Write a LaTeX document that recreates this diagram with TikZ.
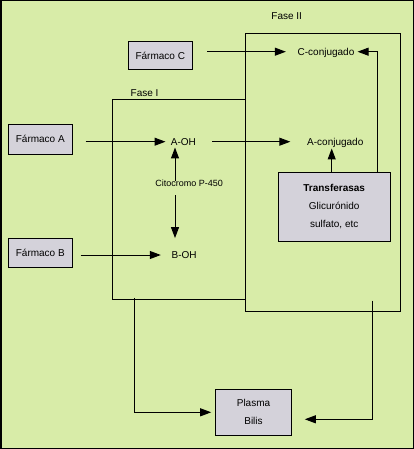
\documentclass[tikz,border=0pt]{standalone}
\usepackage{fontspec}
\setmainfont{Liberation Sans}
\usetikzlibrary{arrows.meta, positioning}
\definecolor{fxBack}{RGB}{216, 236, 168}
\definecolor{fxBox}{RGB}{212, 210, 218}
\tikzset{
  Box/.style      = {draw=black, fill=fxBox, line width=1pt, inner sep=0pt,
                     font=\fontsize{10}{18}\selectfont, align=center},
  Drug/.style     = {Box, text height=7.2pt, text depth=0pt},
  Phase/.style    = {draw=black, line width=1pt, inner sep=0pt},
  Txt/.style      = {inner sep=0pt, font=\fontsize{10}{12}\selectfont,
                     text height=7.2pt, text depth=0pt},
  SmallTxt/.style = {Txt, font=\fontsize{9}{11}\selectfont, text height=6.5pt},
  Arr/.style      = {line width=1pt, -{Triangle[length=11pt, width=8pt]}},
}

\begin{document}
\begin{tikzpicture}[x=1pt, y=-1pt]

% ======================= frame ===========================================
\useasboundingbox (0,0) rectangle (414,449);
\fill[fxBack] (0,0) rectangle (414,449);
\draw[line width=1.5pt] (0.75,0.75) rectangle (413.25,448.25);

% ======================= phases ==========================================
\node[Phase, minimum width=133pt, minimum height=199pt]     (faseI)  at (179.2,199.5) {};
\node[Phase, minimum width=154.3pt, minimum height=277.7pt] (faseII) at (322.85,172.15) {};
\node[Txt, anchor=south west] (lblI)  at ([xshift=18.3pt, yshift=2.4pt]faseI.north west)  {Fase I};
\node[Txt, anchor=south west] (lblII) at ([xshift=26pt, yshift=12.7pt]faseII.north west) {Fase II};

% ======================= boxes ===========================================
\node[Drug, minimum width=64pt, minimum height=27.6pt] (farmC) at (160.3,55.5) {Fármaco C};
\node[Drug, minimum width=64pt, minimum height=30pt]   (farmA) at (40.3,139.3) {Fármaco A};
\node[Drug, minimum width=64pt, minimum height=29.4pt] (farmB) at (40.3,253)   {Fármaco B};
\node[Box, minimum width=111.7pt, minimum height=69pt] (trans) at (334.2,206.8)
  {\textbf{Transferasas}\\Glicurónido\\sulfato, etc};
\node[Box, minimum width=76.4pt, minimum height=46pt]  (plasma) at (253.5,412.3) {Plasma\\Bilis};

% ======================= metabolites =====================================
\node[Txt]      (cconj) at (326,51.7)    {C-conjugado};
\node[Txt]      (aoh)   at (183.4,141.7) {A-OH};
\node[Txt]      (aconj) at (335.3,141.7) {A-conjugado};
\node[SmallTxt] (cito)  at (189.2,183.3) {Citocromo P-450};
\node[Txt]      (boh)   at (184.2,255)   {B-OH};

% ======================= arrows ==========================================
\draw[Arr, shorten <=14.4pt, shorten >=11.6pt] (farmC.east |- cconj) -- (cconj.west);
\draw[Arr, shorten >=3pt] ([xshift=-12.7pt]trans.north east) |- (cconj.east);
\draw[Arr, shorten <=12.7pt, shorten >=5.2pt] (farmA.east |- aoh) -- (aoh.west);
\draw[Arr, shorten <=16.1pt, shorten >=16.7pt] (aoh.east) -- (aconj.west);
\draw[Arr, shorten >=3pt] ([xshift=-2.5pt]trans.north) -- ([xshift=-2.5pt]trans.north |- aconj.south);
% cytochrome, up and down
\draw[Arr, shorten <=-1.5pt, shorten >=2pt] ([xshift=4.3pt]aoh.south west |- cito.north)
  -- ([xshift=4.3pt]aoh.south west);
\draw[Arr, shorten <=8.4pt, shorten >=13.1pt] ([xshift=4.3pt]aoh.south west |- cito.south)
  -- ([xshift=4.3pt]aoh.south west |- boh.north);
\draw[Arr, shorten <=7.7pt, shorten >=10.7pt] (farmB.east |- boh) -- (boh.west);
% out to plasma
\draw[Arr, shorten >=3.6pt] ([xshift=22.3pt, yshift=1.7pt]faseI.south west) |- (plasma.west);
\draw[Arr, shorten >=12.6pt] ([xshift=-27.7pt, yshift=11pt]faseII.south east) |- ([yshift=-7pt]plasma.east);

\end{tikzpicture}
\end{document}
